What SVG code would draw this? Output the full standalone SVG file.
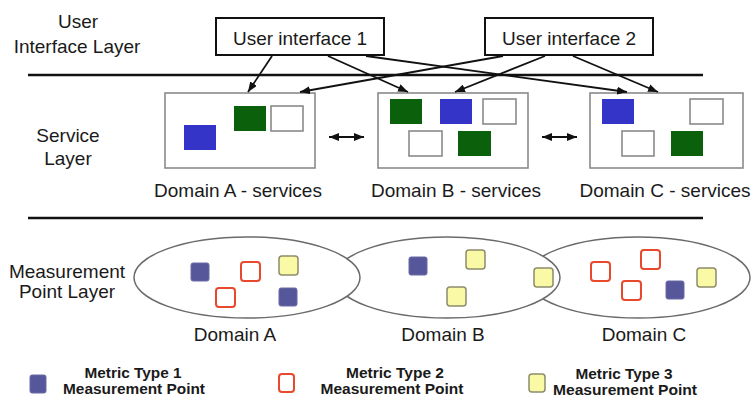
<svg xmlns="http://www.w3.org/2000/svg" width="752" height="399" viewBox="0 0 752 399">
  <style>
    text { font-family: "Liberation Sans", Arial, sans-serif; fill: #1a1a1a; }
    .lbl { font-size: 19px; text-anchor: middle; }
    .leg { font-size: 14px; font-weight: bold; text-anchor: middle; }
    .ui { fill: #fff; stroke: #111; stroke-width: 2; }
    .svc { fill: #fff; stroke: #8a8a8a; stroke-width: 1.6; }
    .blue { fill: #3434c8; }
    .green { fill: #0b600b; }
    .empty { fill: #fff; stroke: #8a8a8a; stroke-width: 1.6; }
    .divider { stroke: #111; stroke-width: 2.5; }
    .dom { fill: #fff; stroke: #6a6a6a; stroke-width: 1.5; }
    .m1 { fill: #56569a; stroke: #6a6aa6; stroke-width: 1; }
    .m2 { fill: #fff; stroke: #e8482c; stroke-width: 2; }
    .m3 { fill: #fafaa6; stroke: #8c8c6c; stroke-width: 1.5; }
    .conn { stroke: #111; stroke-width: 1.8; fill: none; }
  </style>
  <defs>
    <marker id="arrow" viewBox="0 0 10 8" refX="10" refY="4" markerWidth="10" markerHeight="8" markerUnits="userSpaceOnUse" orient="auto-start-reverse">
      <path d="M0,0 L10,4 L0,8 z" fill="#111"/>
    </marker>
  </defs>
  <rect width="752" height="399" fill="#fff"/>

  <!-- layer titles -->
  <g id="layer-titles">
    <text class="lbl" x="78" y="28">User</text>
    <text class="lbl" x="77" y="53">Interface Layer</text>
    <text class="lbl" x="68" y="142">Service</text>
    <text class="lbl" x="68" y="165">Layer</text>
    <text class="lbl" x="67" y="278">Measurement</text>
    <text class="lbl" x="67" y="298">Point Layer</text>
  </g>

  <!-- layer dividers -->
  <g id="dividers">
    <line class="divider" x1="28" y1="75" x2="703" y2="75"/>
    <line class="divider" x1="28" y1="218" x2="703" y2="218"/>
  </g>

  <!-- user interfaces -->
  <g id="ui1">
    <rect class="ui" x="216" y="18" width="168" height="37"/>
    <text class="lbl" x="300" y="45">User interface 1</text>
  </g>
  <g id="ui2">
    <rect class="ui" x="485" y="18" width="168" height="37"/>
    <text class="lbl" x="569" y="45">User interface 2</text>
  </g>

  <!-- service domains -->
  <g id="svc-a">
    <rect class="svc" x="165" y="93" width="150" height="75"/>
    <rect class="blue" x="184" y="125" width="32" height="25"/>
    <rect class="green" x="234" y="106" width="32" height="25"/>
    <rect class="empty" x="271" y="106" width="32" height="25"/>
    <text class="lbl" x="238" y="197">Domain A - services</text>
  </g>
  <g id="svc-b">
    <rect class="svc" x="378" y="93" width="150" height="75"/>
    <rect class="green" x="390" y="99" width="32" height="25"/>
    <rect class="blue" x="440" y="99" width="32" height="25"/>
    <rect class="empty" x="483" y="99" width="33" height="25"/>
    <rect class="empty" x="409" y="131" width="33" height="25"/>
    <rect class="green" x="458" y="131" width="33" height="25"/>
    <text class="lbl" x="456" y="197">Domain B - services</text>
  </g>
  <g id="svc-c">
    <rect class="svc" x="590" y="93" width="153" height="75"/>
    <rect class="blue" x="602" y="99" width="32" height="25"/>
    <rect class="empty" x="690" y="99" width="33" height="25"/>
    <rect class="empty" x="622" y="131" width="32" height="25"/>
    <rect class="green" x="671" y="131" width="32" height="25"/>
    <text class="lbl" x="665" y="197">Domain C - services</text>
  </g>

  <!-- measurement domains (drawn back to front) -->
  <g id="mp-c">
    <ellipse class="dom" cx="638" cy="277.5" rx="112" ry="40.5"/>
    <rect class="m2" x="591" y="262" width="19" height="19" rx="3"/>
    <rect class="m2" x="641" y="250" width="19" height="19" rx="3"/>
    <rect class="m2" x="622" y="281" width="19" height="19" rx="3"/>
    <rect class="m1" x="666" y="281" width="18" height="18" rx="2"/>
    <rect class="m3" x="697" y="268" width="19" height="19" rx="3"/>
    <text class="lbl" x="644" y="341">Domain C</text>
  </g>
  <g id="mp-b">
    <ellipse class="dom" cx="447" cy="277.5" rx="113" ry="40.5"/>
    <rect class="m1" x="409" y="257" width="18" height="18" rx="2"/>
    <rect class="m3" x="466" y="250" width="19" height="19" rx="3"/>
    <rect class="m3" x="447" y="287" width="19" height="19" rx="3"/>
    <rect class="m3" x="534" y="268" width="19" height="19" rx="3"/>
    <text class="lbl" x="443" y="341">Domain B</text>
  </g>
  <g id="mp-a">
    <ellipse class="dom" cx="247" cy="277.5" rx="113" ry="40.5"/>
    <rect class="m1" x="191" y="263" width="18" height="18" rx="2"/>
    <rect class="m2" x="241" y="262" width="19" height="19" rx="3"/>
    <rect class="m3" x="279" y="256" width="19" height="19" rx="3"/>
    <rect class="m2" x="216" y="288" width="19" height="19" rx="3"/>
    <rect class="m1" x="279" y="288" width="18" height="18" rx="2"/>
    <text class="lbl" x="235" y="341">Domain A</text>
  </g>

  <!-- connectors -->
  <g id="connectors">
    <line class="conn" x1="272" y1="56" x2="248" y2="92" marker-end="url(#arrow)"/>
    <line class="conn" x1="328" y1="56" x2="408" y2="92" marker-end="url(#arrow)"/>
    <line class="conn" x1="366" y1="56" x2="627" y2="92" marker-end="url(#arrow)"/>
    <line class="conn" x1="503" y1="56" x2="300" y2="92" marker-end="url(#arrow)"/>
    <line class="conn" x1="545" y1="56" x2="455" y2="92" marker-end="url(#arrow)"/>
    <line class="conn" x1="573" y1="56" x2="658" y2="92" marker-end="url(#arrow)"/>
    <line class="conn" x1="329" y1="137" x2="364" y2="137" marker-start="url(#arrow)" marker-end="url(#arrow)"/>
    <line class="conn" x1="542" y1="137" x2="577" y2="137" marker-start="url(#arrow)" marker-end="url(#arrow)"/>
  </g>

  <!-- legend -->
  <g id="legend-1">
    <rect class="m1" x="30" y="375" width="16" height="18" rx="2"/>
    <text class="leg" x="133" y="378" textLength="97" lengthAdjust="spacingAndGlyphs">Metric Type 1</text>
    <text class="leg" x="134" y="394" textLength="142" lengthAdjust="spacingAndGlyphs">Measurement Point</text>
  </g>
  <g id="legend-2">
    <rect class="m2" x="279" y="374" width="15" height="18" rx="3"/>
    <text class="leg" x="395" y="378" textLength="98" lengthAdjust="spacingAndGlyphs">Metric Type 2</text>
    <text class="leg" x="392" y="394" textLength="143" lengthAdjust="spacingAndGlyphs">Measurement Point</text>
  </g>
  <g id="legend-3">
    <rect class="m3" x="529" y="374" width="16" height="18" rx="3"/>
    <text class="leg" x="624" y="379" textLength="97" lengthAdjust="spacingAndGlyphs">Metric Type 3</text>
    <text class="leg" x="625" y="395" textLength="144" lengthAdjust="spacingAndGlyphs">Measurement Point</text>
  </g>
</svg>
